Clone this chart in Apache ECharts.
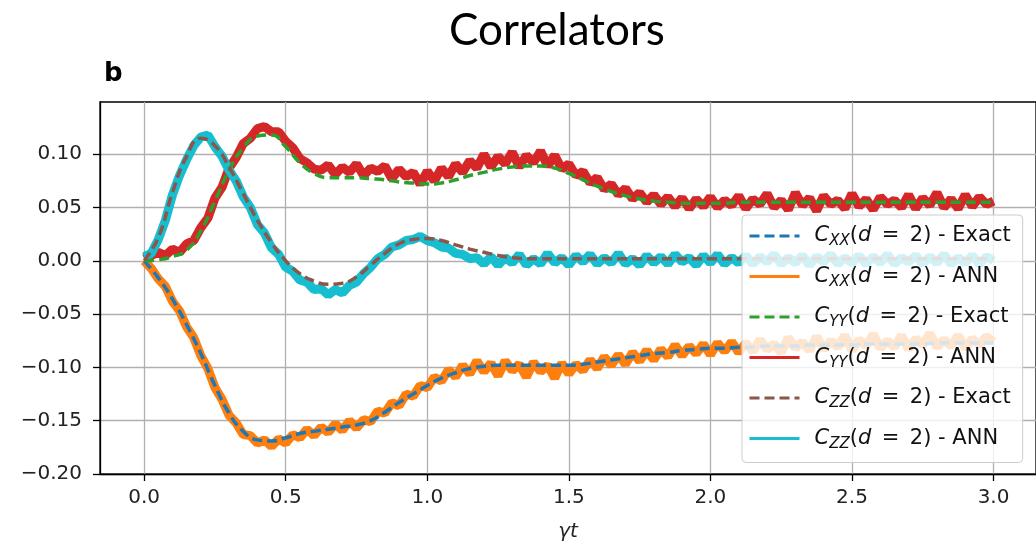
<!DOCTYPE html>
<html>
<head>
<meta charset="utf-8">
<title>Correlators</title>
<script src="https://cdn.jsdelivr.net/npm/echarts@6.0.0/dist/echarts.min.js"></script>
<style>
  html, body { margin: 0; padding: 0; background: #fff; }
  #chart { width: 1036px; height: 547px; }
</style>
</head>
<body>
<div id="chart"></div>
<script>
// time grids (gamma t)
var tExactStep = 0.05
var tAnnStep = 0.025
var xTicks = [0, 0.5, 1.0, 1.5, 2.0, 2.5, 3.0]
var yTicks = [-0.2, -0.15, -0.1, -0.05, 0, 0.05, 0.1]

// exact curves, sampled every 0.05 from 0 to 3
var cxxExact = [0, -0.016, -0.036, -0.060, -0.087, -0.117, -0.143, -0.160, -0.168, -0.169,
  -0.166, -0.162, -0.160, -0.158, -0.156, -0.154, -0.150, -0.142, -0.133, -0.125,
  -0.117, -0.110, -0.105, -0.101, -0.099, -0.098, -0.098, -0.098, -0.098, -0.098,
  -0.098, -0.097, -0.095, -0.093, -0.091, -0.089, -0.087, -0.086, -0.084, -0.083,
  -0.082, -0.082, -0.081, -0.081, -0.080, -0.080, -0.080, -0.079, -0.079, -0.079,
  -0.079, -0.078, -0.078, -0.078, -0.078, -0.078, -0.077, -0.077, -0.077, -0.077,
  -0.077]
var cyyExact = [0, 0.001, 0.004, 0.010, 0.028, 0.056, 0.085, 0.106, 0.117, 0.118,
  0.107, 0.092, 0.082, 0.078, 0.078, 0.078, 0.077, 0.076, 0.074, 0.073,
  0.072, 0.073, 0.076, 0.080, 0.083, 0.086, 0.088, 0.089, 0.089, 0.087,
  0.082, 0.076, 0.070, 0.065, 0.061, 0.058, 0.056, 0.055, 0.054, 0.054,
  0.054, 0.054, 0.055, 0.055, 0.055, 0.055, 0.055, 0.055, 0.055, 0.055,
  0.055, 0.055, 0.055, 0.055, 0.055, 0.055, 0.055, 0.055, 0.055, 0.055,
  0.055]
var czzExact = [0, 0.022, 0.064, 0.098, 0.115, 0.108, 0.088, 0.063, 0.038, 0.017,
  0.000, -0.012, -0.019, -0.022, -0.021, -0.015, -0.004, 0.007, 0.016, 0.020,
  0.021, 0.019, 0.015, 0.011, 0.008, 0.005, 0.003, 0.002, 0.002, 0.002,
  0.002, 0.002, 0.002, 0.002, 0.002, 0.002, 0.002, 0.002, 0.002, 0.002,
  0.002, 0.002, 0.002, 0.002, 0.002, 0.002, 0.002, 0.002, 0.002, 0.002,
  0.002, 0.002, 0.002, 0.002, 0.002, 0.002, 0.002, 0.002, 0.002, 0.002,
  0.002]

// ANN curves (noisy), sampled every 0.025 from 0 to 3
var cxxAnn = [0.000, -0.007, -0.017, -0.024, -0.038, -0.047, -0.062, -0.072, -0.089, -0.101,
  -0.119, -0.130, -0.145, -0.152, -0.163, -0.164, -0.171, -0.168, -0.174, -0.167,
  -0.171, -0.163, -0.166, -0.158, -0.164, -0.156, -0.161, -0.153, -0.159, -0.150,
  -0.157, -0.149, -0.151, -0.141, -0.143, -0.133, -0.136, -0.125, -0.127, -0.117,
  -0.119, -0.109, -0.113, -0.102, -0.109, -0.098, -0.106, -0.094, -0.104, -0.096,
  -0.108, -0.094, -0.103, -0.097, -0.109, -0.095, -0.104, -0.098, -0.110, -0.096,
  -0.106, -0.097, -0.103, -0.093, -0.101, -0.090, -0.098, -0.088, -0.097, -0.086,
  -0.094, -0.084, -0.093, -0.083, -0.090, -0.079, -0.089, -0.080, -0.087, -0.078,
  -0.088, -0.077, -0.085, -0.076, -0.086, -0.077, -0.085, -0.074, -0.083, -0.078,
  -0.086, -0.072, -0.082, -0.076, -0.084, -0.071, -0.083, -0.075, -0.081, -0.070,
  -0.084, -0.074, -0.080, -0.069, -0.082, -0.075, -0.081, -0.070, -0.083, -0.073,
  -0.079, -0.068, -0.081, -0.074, -0.080, -0.070, -0.082, -0.073, -0.079, -0.071,
  -0.076]
var cyyAnn = [0.002, 0.005, 0.008, 0.005, 0.011, 0.008, 0.016, 0.019, 0.031, 0.040,
  0.059, 0.069, 0.087, 0.097, 0.110, 0.115, 0.124, 0.126, 0.121, 0.121,
  0.112, 0.106, 0.096, 0.092, 0.086, 0.085, 0.090, 0.081, 0.088, 0.083,
  0.091, 0.080, 0.087, 0.084, 0.089, 0.077, 0.086, 0.079, 0.083, 0.072,
  0.084, 0.075, 0.087, 0.079, 0.091, 0.083, 0.094, 0.087, 0.100, 0.088,
  0.098, 0.091, 0.102, 0.088, 0.099, 0.092, 0.103, 0.089, 0.099, 0.086,
  0.091, 0.080, 0.084, 0.073, 0.078, 0.067, 0.072, 0.062, 0.068, 0.058,
  0.064, 0.055, 0.062, 0.053, 0.060, 0.051, 0.059, 0.049, 0.058, 0.051,
  0.060, 0.050, 0.057, 0.052, 0.061, 0.049, 0.058, 0.053, 0.063, 0.050,
  0.057, 0.048, 0.064, 0.052, 0.059, 0.047, 0.061, 0.053, 0.057, 0.049,
  0.063, 0.051, 0.058, 0.048, 0.060, 0.053, 0.057, 0.050, 0.062, 0.049,
  0.059, 0.052, 0.064, 0.050, 0.058, 0.049, 0.062, 0.051, 0.060, 0.053,
  0.056]
var czzAnn = [0.004, 0.007, 0.020, 0.038, 0.062, 0.080, 0.095, 0.108, 0.116, 0.118,
  0.107, 0.098, 0.085, 0.075, 0.060, 0.050, 0.034, 0.026, 0.012, 0.006,
  -0.006, -0.010, -0.018, -0.020, -0.027, -0.026, -0.032, -0.027, -0.030, -0.023,
  -0.020, -0.012, -0.006, 0.002, 0.006, 0.013, 0.015, 0.019, 0.020, 0.023,
  0.019, 0.017, 0.013, 0.012, 0.007, 0.006, 0.002, 0.003, -0.003, 0.004,
  -0.004, 0.003, -0.002, 0.006, -0.004, 0.002, -0.003, 0.007, -0.002, 0.003,
  -0.004, 0.005, -0.001, 0.006, -0.003, 0.003, -0.002, 0.007, -0.003, 0.002,
  -0.004, 0.005, -0.002, 0.004, -0.003, 0.006, -0.001, 0.003, -0.004, 0.005,
  -0.002, 0.006, -0.003, 0.003, -0.002, 0.005, -0.003, 0.004, -0.001, 0.006,
  -0.003, 0.003, -0.002, 0.005, -0.004, 0.004, -0.001, 0.006, -0.003, 0.003,
  -0.002, 0.005, -0.003, 0.004, -0.002, 0.006, -0.003, 0.003, -0.001, 0.005,
  -0.003, 0.004, -0.002, 0.006, -0.003, 0.003, -0.002, 0.005, -0.003, 0.004,
  0.000]

var legendNames = [
  'C_XX(d = 2) - Exact', 'C_XX(d = 2) - ANN',
  'C_YY(d = 2) - Exact', 'C_YY(d = 2) - ANN',
  'C_ZZ(d = 2) - Exact', 'C_ZZ(d = 2) - ANN'
]

var colors = {
  blue: '#1f77b4', orange: '#ff7f0e', green: '#2ca02c',
  red: '#d62728', brown: '#8c564b', cyan: '#17becf'
}
var font = 'DejaVu Sans'

function pairs (step, values) {
  return values.map(function (v, i) { return [+(i * step).toFixed(3), v] })
}

function annSeries (name, color, values) {
  return {
    name: name,
    type: 'line',
    data: pairs(tAnnStep, values),
    showSymbol: false,
    symbol: 'none',
    z: 2,
    lineStyle: { color: color, width: 9, join: 'bevel' },
    itemStyle: { color: color }
  }
}

function exactSeries (name, color, values) {
  return {
    name: name,
    type: 'line',
    data: pairs(tExactStep, values),
    smooth: true,
    showSymbol: false,
    symbol: 'none',
    z: 3,
    lineStyle: { color: color, width: 3.5, type: [10, 5] },
    itemStyle: { color: color }
  }
}

var chart = echarts.init(document.getElementById('chart'))
chart.setOption({
  animation: false,
  backgroundColor: '#fff',
  graphic: [
    {
      type: 'text',
      x: 557,
      y: 31,
      style: { text: 'Correlators', font: '44px Lato', fill: '#000', align: 'center', verticalAlign: 'middle' }
    },
    {
      type: 'text',
      x: 104,
      y: 74,
      style: { text: 'b', font: 'bold 26px "DejaVu Sans"', fill: '#000', align: 'left', verticalAlign: 'middle' }
    }
  ],
  grid: {
    left: 100,
    right: -2,
    top: 102,
    bottom: 73,
    show: true,
    borderColor: '#000',
    borderWidth: 1.3
  },
  legend: {
    orient: 'vertical',
    left: 742,
    top: 215,
    data: legendNames,
    itemWidth: 50,
    itemHeight: 14,
    itemGap: 14.5,
    padding: [8, 12, 11, 6],
    backgroundColor: 'rgba(255,255,255,0.8)',
    borderColor: '#cccccc',
    borderWidth: 1,
    borderRadius: 4,
    itemStyle: { opacity: 0 },
    lineStyle: { width: 3 },
    formatter: function (name) {
      // math-style spacing around "="
      return name.replace(/C_(\w+)\(d = 2\)/, '{c|C}{s|$1}({c|d}\u2002=\u20022)')
    },
    textStyle: {
      fontFamily: font,
      fontSize: 21,
      color: '#111',
      lineHeight: 26,
      padding: [0, 0, 0, 10],
      rich: {
        c: { fontFamily: font, fontSize: 21, fontStyle: 'italic', lineHeight: 26, color: '#111' },
        s: { fontFamily: font, fontSize: 15, fontStyle: 'italic', lineHeight: 26, verticalAlign: 'bottom', color: '#111' }
      }
    }
  },
  xAxis: {
    type: 'value',
    min: -0.156,
    max: 3.15,
    name: 'γt',
    nameLocation: 'middle',
    nameGap: 48,
    nameTextStyle: { fontFamily: font, fontSize: 20, fontStyle: 'italic', color: '#222' },
    axisLine: { show: true, onZero: false, lineStyle: { color: '#000', width: 1.3 } },
    axisTick: { show: true, length: 7, customValues: xTicks, lineStyle: { color: '#000', width: 1.3 } },
    axisLabel: {
      customValues: xTicks,
      margin: 14,
      fontFamily: font,
      fontSize: 20,
      color: '#222',
      formatter: function (v) { return v.toFixed(1) }
    },
    splitLine: { show: true, lineStyle: { color: '#b0b0b0', width: 1.3 } }
  },
  yAxis: {
    type: 'value',
    min: -0.2,
    max: 0.149,
    axisLine: { show: true, onZero: false, lineStyle: { color: '#000', width: 1.3 } },
    axisTick: { show: true, length: 7, customValues: yTicks, lineStyle: { color: '#000', width: 1.3 } },
    axisLabel: {
      customValues: yTicks,
      margin: 18,
      fontFamily: font,
      fontSize: 20,
      color: '#222',
      formatter: function (v) { return v.toFixed(2).replace('-', '\u2212') }
    },
    splitLine: { show: true, lineStyle: { color: '#b0b0b0', width: 1.3 } }
  },
  series: [
    annSeries(legendNames[1], colors.orange, cxxAnn),
    annSeries(legendNames[3], colors.red, cyyAnn),
    annSeries(legendNames[5], colors.cyan, czzAnn),
    exactSeries(legendNames[0], colors.blue, cxxExact),
    exactSeries(legendNames[2], colors.green, cyyExact),
    exactSeries(legendNames[4], colors.brown, czzExact)
  ]
})
</script>
</body>
</html>
